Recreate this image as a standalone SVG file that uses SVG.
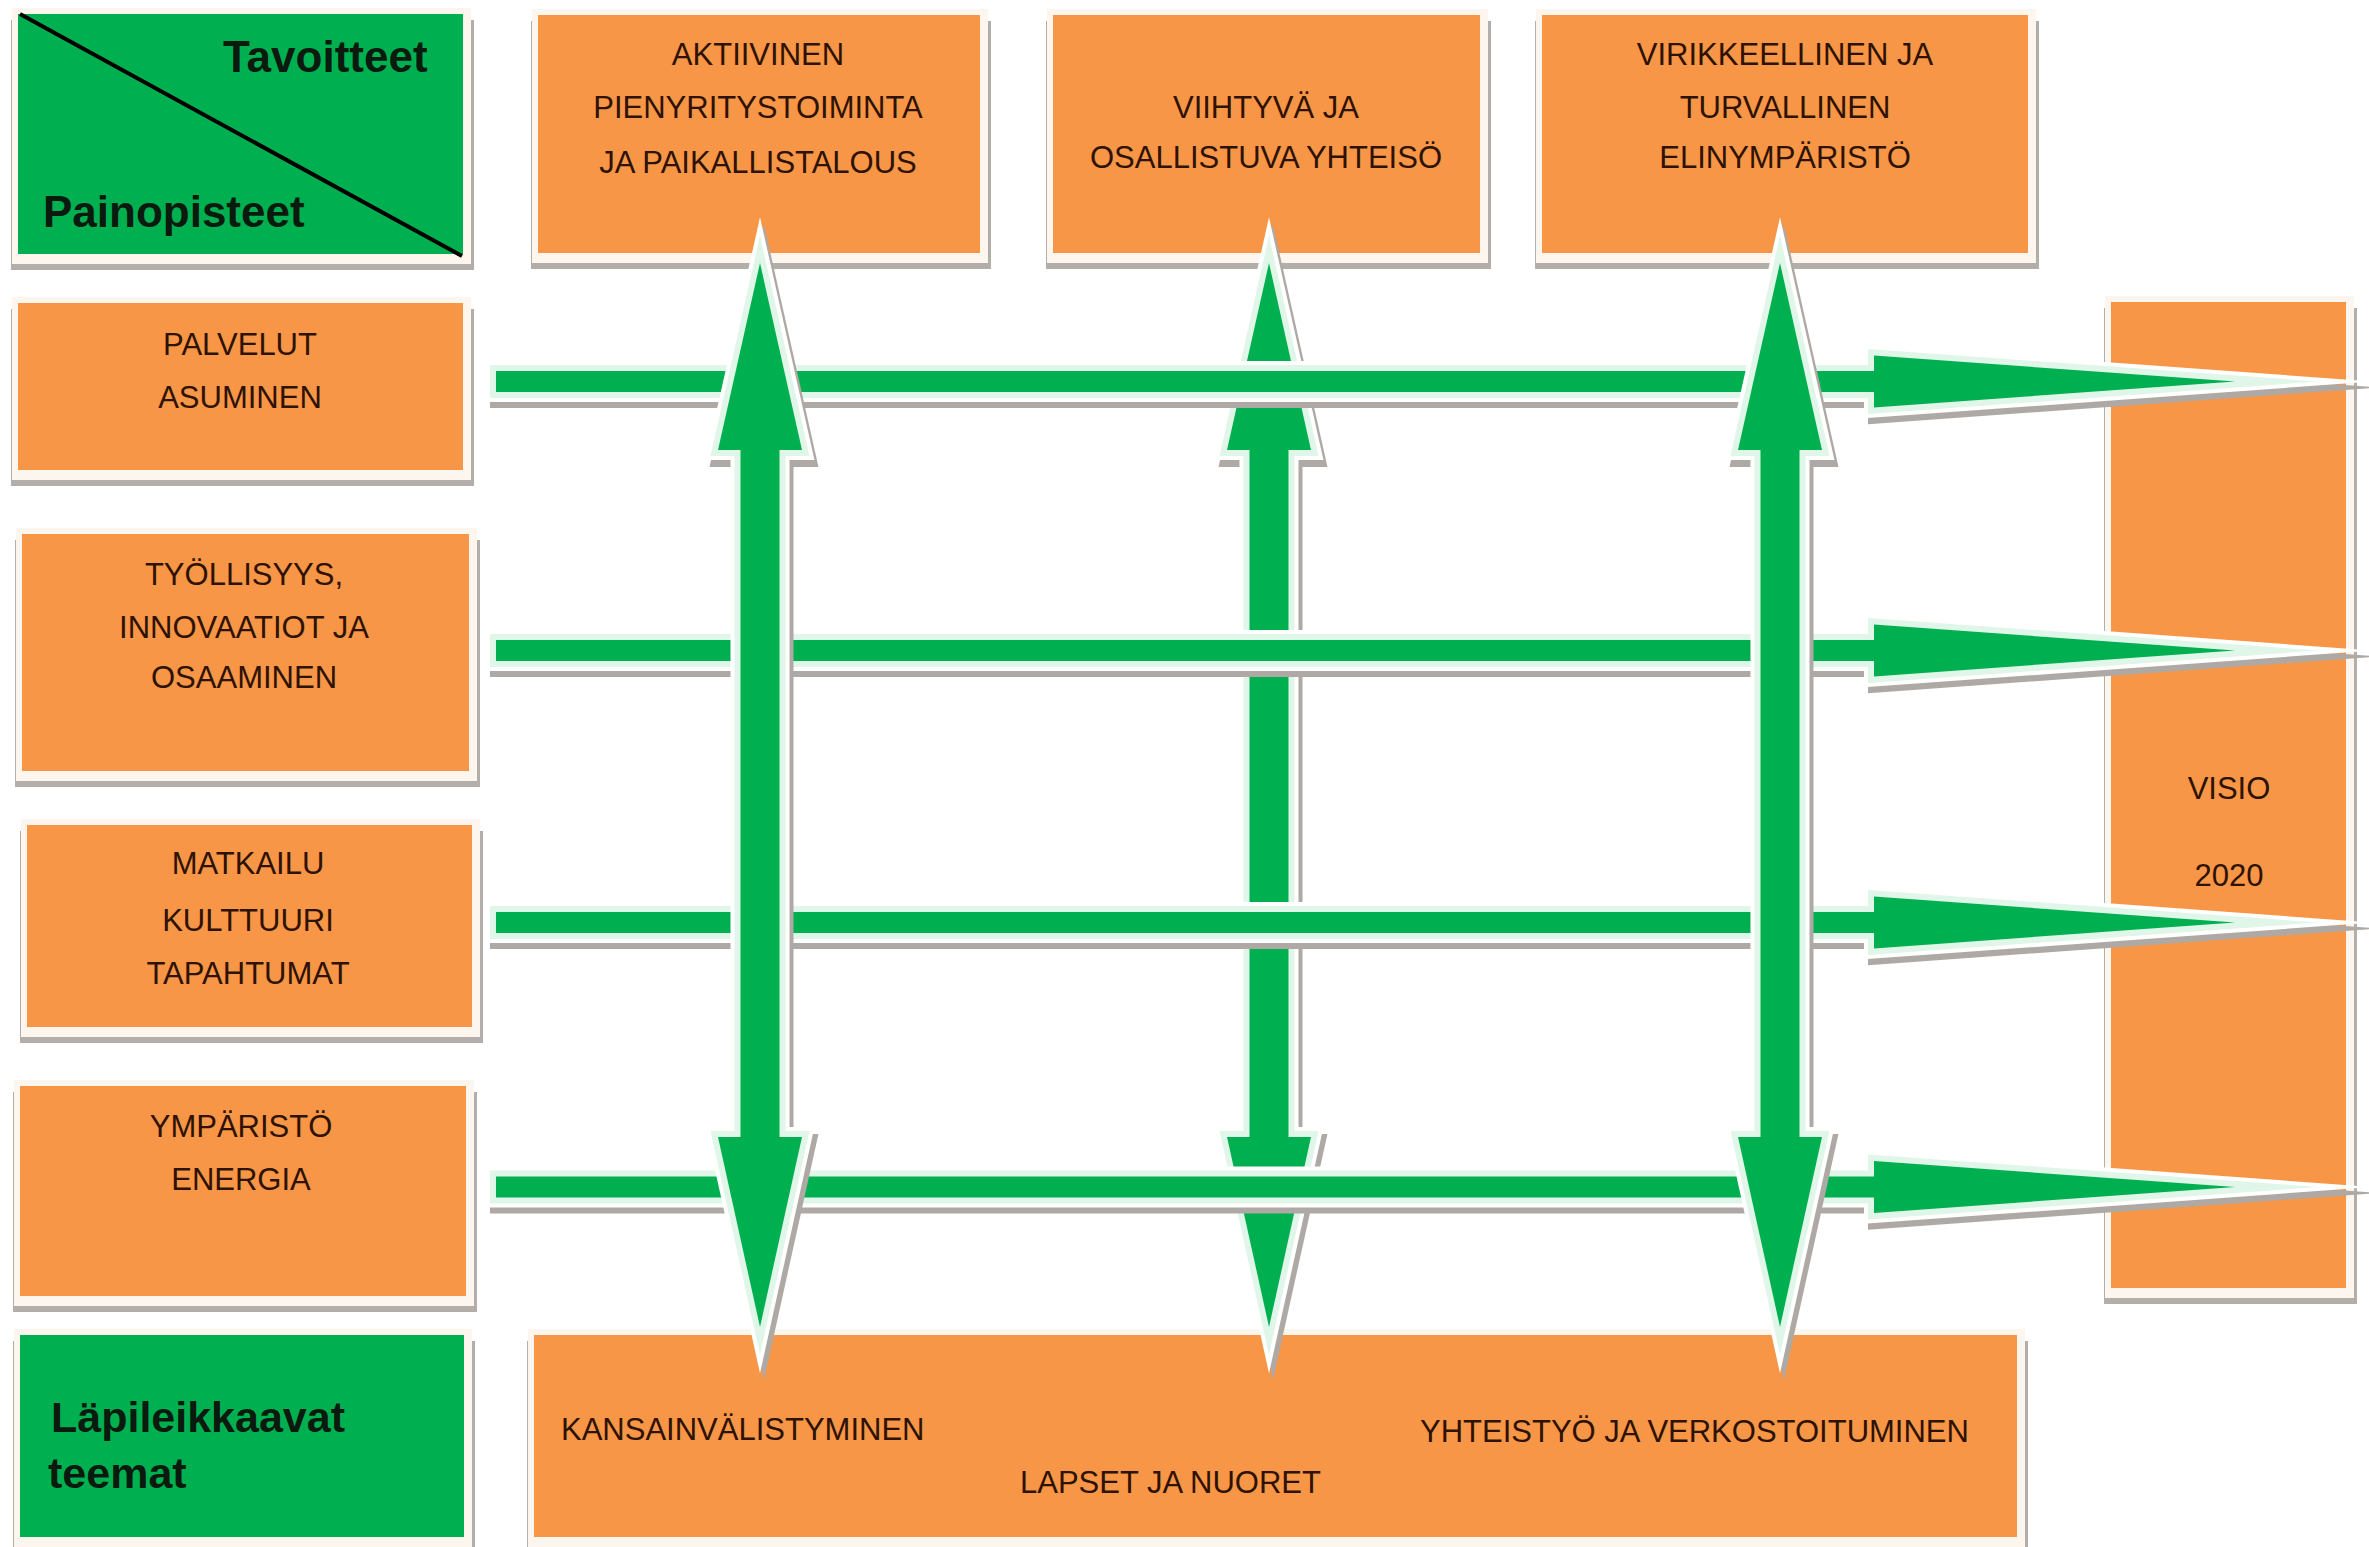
<svg xmlns="http://www.w3.org/2000/svg" width="2369" height="1547" viewBox="0 0 2369 1547">
<defs>
<style>
.bs{fill:#b3aea9}
.bc{fill:#fdf6ee}
.or{fill:#F79646}
.gr{fill:#00B050}
.t{font-family:"Liberation Sans",Arial,sans-serif;font-size:31px;fill:#2e1204;text-anchor:middle}
.tl{text-anchor:start}
.h{font-family:"Liberation Sans",Arial,sans-serif;font-weight:bold;font-size:44px;fill:#0b1a0e}
.a-sh{fill:#aea9a4;stroke:#aea9a4;stroke-width:20;stroke-linejoin:miter;stroke-miterlimit:40}
.a-halo{fill:#ffffff;stroke:#ffffff;stroke-width:20;stroke-linejoin:miter;stroke-miterlimit:40}
.a-mint{fill:#dff6e8;stroke:#dff6e8;stroke-width:12;stroke-linejoin:miter;stroke-miterlimit:40}
.a-fill{fill:#00B050}
</style>
<path id="ha" d="M496,-10.5H1874V-26L2235,0L1874,26V10.5H496Z"/>
<path id="va" d="M0,263L42,450H19.5V1137H42L0,1327L-42,1137H-19.5V450H-42Z"/>
</defs>
<rect x="0" y="0" width="2369" height="1547" fill="#ffffff"/>

<g id="header">
<rect class="bs" x="11" y="20" width="463" height="250"/>
<rect class="bc" x="12" y="8" width="459" height="256"/>
<rect class="gr" x="18" y="14" width="445" height="240"/>
<line x1="20" y1="14" x2="462" y2="256" stroke="#000" stroke-width="4"/>
<text class="h" x="223" y="72">Tavoitteet</text>
<text class="h" x="43" y="227">Painopisteet</text>
</g>

<g id="goal-1">
<rect class="bs" x="531" y="21" width="460" height="248"/>
<rect class="bc" x="532" y="9" width="456" height="254"/>
<rect class="or" x="538" y="15" width="442" height="238"/>
<text class="t" x="758" y="65">AKTIIVINEN</text>
<text class="t" x="758" y="118">PIENYRITYSTOIMINTA</text>
<text class="t" x="758" y="173">JA PAIKALLISTALOUS</text>
</g>

<g id="goal-2">
<rect class="bs" x="1046" y="21" width="445" height="248"/>
<rect class="bc" x="1047" y="9" width="441" height="254"/>
<rect class="or" x="1053" y="15" width="427" height="238"/>
<text class="t" x="1266" y="118">VIIHTYVÄ JA</text>
<text class="t" x="1266" y="168">OSALLISTUVA YHTEISÖ</text>
</g>

<g id="goal-3">
<rect class="bs" x="1535" y="21" width="504" height="248"/>
<rect class="bc" x="1536" y="9" width="500" height="254"/>
<rect class="or" x="1542" y="15" width="486" height="238"/>
<text class="t" x="1785" y="65">VIRIKKEELLINEN JA</text>
<text class="t" x="1785" y="118">TURVALLINEN</text>
<text class="t" x="1785" y="168">ELINYMPÄRISTÖ</text>
</g>

<g id="focus-1">
<rect class="bs" x="11" y="309" width="463" height="177"/>
<rect class="bc" x="12" y="297" width="459" height="183"/>
<rect class="or" x="18" y="303" width="445" height="167"/>
<text class="t" x="240" y="355">PALVELUT</text>
<text class="t" x="240" y="408">ASUMINEN</text>
</g>

<g id="focus-2">
<rect class="bs" x="15" y="540" width="465" height="247"/>
<rect class="bc" x="16" y="528" width="461" height="253"/>
<rect class="or" x="22" y="534" width="447" height="237"/>
<text class="t" x="244" y="585">TYÖLLISYYS,</text>
<text class="t" x="244" y="638">INNOVAATIOT JA</text>
<text class="t" x="244" y="688">OSAAMINEN</text>
</g>

<g id="focus-3">
<rect class="bs" x="20" y="831" width="463" height="212"/>
<rect class="bc" x="21" y="819" width="459" height="218"/>
<rect class="or" x="27" y="825" width="445" height="202"/>
<text class="t" x="248" y="874">MATKAILU</text>
<text class="t" x="248" y="931">KULTTUURI</text>
<text class="t" x="248" y="984">TAPAHTUMAT</text>
</g>

<g id="focus-4">
<rect class="bs" x="13" y="1092" width="464" height="220"/>
<rect class="bc" x="14" y="1080" width="460" height="226"/>
<rect class="or" x="20" y="1086" width="446" height="210"/>
<text class="t" x="241" y="1137">YMPÄRISTÖ</text>
<text class="t" x="241" y="1190">ENERGIA</text>
</g>

<g id="themes-label">
<rect class="bs" x="13" y="1341" width="462" height="212"/>
<rect class="bc" x="14" y="1329" width="458" height="218"/>
<rect class="gr" x="20" y="1335" width="444" height="202"/>
<text class="h" x="51" y="1432" style="font-size:43px">Läpileikkaavat</text>
<text class="h" x="48" y="1488" style="font-size:43px">teemat</text>
</g>

<g id="themes">
<rect class="bs" x="527" y="1341" width="1501" height="212"/>
<rect class="bc" x="528" y="1329" width="1497" height="218"/>
<rect class="or" x="534" y="1335" width="1483" height="202"/>
<text class="t tl" x="561" y="1440">KANSAINVÄLISTYMINEN</text>
<text class="t tl" x="1020" y="1493">LAPSET JA NUORET</text>
<text class="t tl" x="1420" y="1442">YHTEISTYÖ JA VERKOSTOITUMINEN</text>
</g>

<g id="vision">
<rect class="bs" x="2104" y="308" width="253" height="996"/>
<rect class="bc" x="2105" y="296" width="249" height="1002"/>
<rect class="or" x="2111" y="302" width="235" height="986"/>
<text class="t" x="2229" y="799">VISIO</text>
<text class="t" x="2229" y="886">2020</text>
</g>

<g id="connectors">
<g id="arrow-goal-2">
<use href="#va" class="a-sh" transform="translate(1273,7)"/>
<use href="#va" class="a-halo" transform="translate(1269,0)"/>
<use href="#va" class="a-mint" transform="translate(1269,0)"/>
<use href="#va" class="a-fill" transform="translate(1269,0)"/>
</g>
<g id="arrow-focus-1">
<use href="#ha" class="a-sh" transform="translate(4,387.5)"/>
<use href="#ha" class="a-halo" transform="translate(0,381.5)"/>
<use href="#ha" class="a-mint" transform="translate(0,381.5)"/>
<use href="#ha" class="a-fill" transform="translate(0,381.5)"/>
</g>
<g id="arrow-focus-2">
<use href="#ha" class="a-sh" transform="translate(4,656.5)"/>
<use href="#ha" class="a-halo" transform="translate(0,650.5)"/>
<use href="#ha" class="a-mint" transform="translate(0,650.5)"/>
<use href="#ha" class="a-fill" transform="translate(0,650.5)"/>
</g>
<g id="arrow-focus-3">
<use href="#ha" class="a-sh" transform="translate(4,928.5)"/>
<use href="#ha" class="a-halo" transform="translate(0,922.5)"/>
<use href="#ha" class="a-mint" transform="translate(0,922.5)"/>
<use href="#ha" class="a-fill" transform="translate(0,922.5)"/>
</g>
<g id="arrow-focus-4">
<use href="#ha" class="a-sh" transform="translate(4,1193)"/>
<use href="#ha" class="a-halo" transform="translate(0,1187)"/>
<use href="#ha" class="a-mint" transform="translate(0,1187)"/>
<use href="#ha" class="a-fill" transform="translate(0,1187)"/>
</g>
<g id="arrow-goal-1">
<use href="#va" class="a-sh" transform="translate(764,7)"/>
<use href="#va" class="a-halo" transform="translate(760,0)"/>
<use href="#va" class="a-mint" transform="translate(760,0)"/>
<use href="#va" class="a-fill" transform="translate(760,0)"/>
</g>
<g id="arrow-goal-3">
<use href="#va" class="a-sh" transform="translate(1784,7)"/>
<use href="#va" class="a-halo" transform="translate(1780,0)"/>
<use href="#va" class="a-mint" transform="translate(1780,0)"/>
<use href="#va" class="a-fill" transform="translate(1780,0)"/>
</g>
</g>
</svg>
